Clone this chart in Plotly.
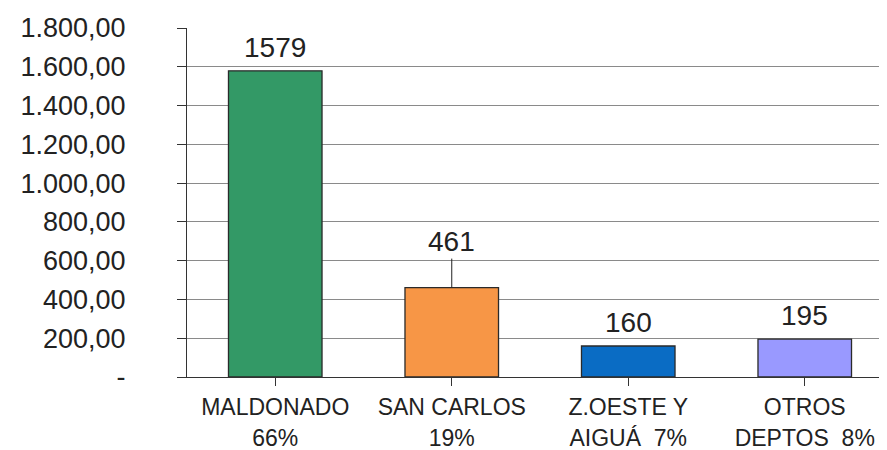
import plotly.graph_objects as go

categories = ["MALDONADO", "SAN CARLOS", "Z.OESTE Y", "OTROS"]
cat_line2 = ["66%", "19%", "AIGUÁ  7%", "DEPTOS  8%"]
values = [1579, 461, 160, 195]
colors = ["#339966", "#F79646", "#0A6CC4", "#9999FF"]
y_ticks = [0, 200, 400, 600, 800, 1000, 1200, 1400, 1600, 1800]
y_ticktext = ["-", "200,00", "400,00", "600,00", "800,00", "1.000,00",
              "1.200,00", "1.400,00", "1.600,00", "1.800,00"]

x = list(range(len(categories)))
xrange = [-0.5, 3.466]

fig = go.Figure()
fig.add_trace(go.Bar(
    x=x, y=values, width=0.53,
    marker=dict(color=colors, line=dict(color="#2a2a2a", width=1.3)),
    hoverinfo="skip",
))
# invisible helper trace so the second label row (xaxis2) is drawn
fig.add_trace(go.Scatter(
    x=x, y=values, xaxis="x2", mode="markers",
    marker=dict(opacity=0), hoverinfo="skip",
))

font = "Liberation Sans, Arial, sans-serif"
for i, v in enumerate(values):
    if v == 461:
        fig.add_annotation(x=i, y=v, text=str(v), showarrow=True, arrowhead=0,
                           arrowwidth=1, arrowcolor="#222", ax=0, ay=-46,
                           font=dict(family=font, size=28, color="#222"))
    else:
        fig.add_annotation(x=i, y=v, text=str(v), showarrow=False,
                           yanchor="bottom", yshift=6,
                           font=dict(family=font, size=28, color="#222"))

fig.update_layout(
    width=879, height=442,
    margin=dict(l=179, r=0, t=20, b=73),
    paper_bgcolor="white", plot_bgcolor="white",
    showlegend=False,
    font=dict(family=font, color="#222"),
    xaxis=dict(
        range=xrange, tickmode="array", tickvals=x, ticktext=categories,
        tickson="boundaries", ticks="outside", ticklen=8, tickcolor="#333",
        showline=True, linecolor="#333", linewidth=1, showgrid=False,
        tickfont=dict(family=font, size=23, color="#222"),
        zeroline=False, automargin=False, ticklabelstandoff=1,
    ),
    xaxis2=dict(
        overlaying="x", anchor="y", side="bottom",
        range=xrange, tickmode="array", tickvals=x, ticktext=cat_line2,
        ticks="", showline=False, showgrid=False, zeroline=False,
        tickfont=dict(family=font, size=23, color="#222"),
        automargin=False, ticklabelstandoff=45,
    ),
    yaxis=dict(
        range=[0, 1800], tickmode="array", tickvals=y_ticks, ticktext=y_ticktext,
        ticks="outside", ticklen=9, tickcolor="#333",
        showline=True, linecolor="#333", linewidth=1,
        showgrid=True, gridcolor="#8a8a8a", gridwidth=1,
        tickfont=dict(family=font, size=27, color="#222"),
        ticklabelstandoff=46, zeroline=False, automargin=False,
    ),
)

fig.write_html("out.html")
